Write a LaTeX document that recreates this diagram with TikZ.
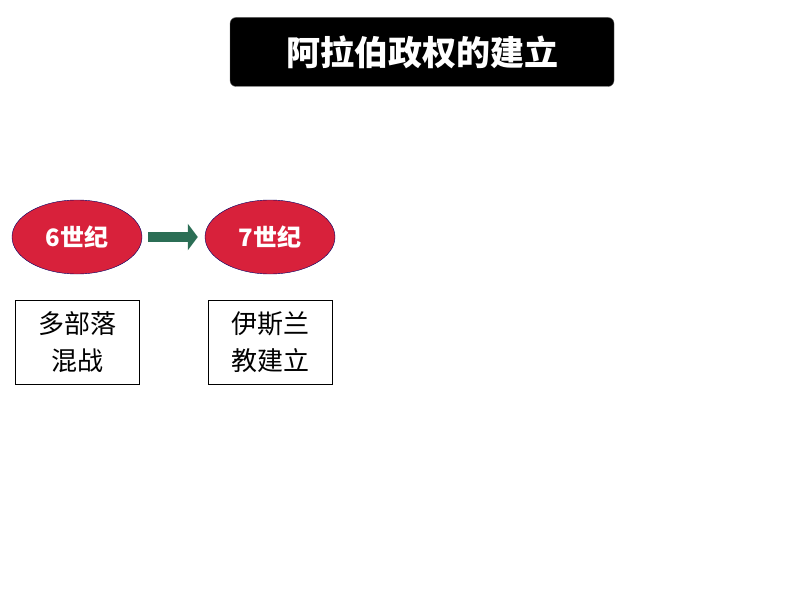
\documentclass[tikz,border=0pt]{standalone}
\usepackage{fontspec}
\setmainfont{Liberation Sans}
\newfontfamily\cjk{Noto Sans CJK SC}
\usetikzlibrary{positioning}
\usetikzlibrary{shapes}
\usetikzlibrary{arrows.meta}
\definecolor{eracolor}{HTML}{D8213B}
\definecolor{arrowgreen}{HTML}{2B6E55}
\begin{document}
\begin{tikzpicture}[x=1pt,y=-1pt,
era/.style={draw=blue!40!black,fill=eracolor,ellipse,minimum width=130pt,
minimum height=74pt,text=white,font=\cjk\bfseries\fontsize{24}{26}\selectfont},
event/.style={draw=black,fill=white,rectangle,minimum width=124pt,
minimum height=84pt,align=center,font=\cjk\fontsize{26}{37}\selectfont,
node distance=26pt}]
\useasboundingbox (0,0) rectangle (794,596);
\node[fill=black,draw=black!60,rounded corners=6pt,minimum width=384pt,
minimum height=69pt,text=white,font=\cjk\bfseries\fontsize{34}{36}\selectfont]
  (title) at (422,52) {阿拉伯政权的建立};
\node[era] (e6) at (77,237) {6世纪};
\node[era] (e7) at (270,237) {7世纪};
\node[event] (war) [below=of e6] {多部落\\混战};
\node[event] (islam) [below=of e7] {伊斯兰\\教建立};

\draw[arrowgreen,line width=10pt,-{Triangle[length=10pt,width=26pt]}]
  ([xshift=6pt]e6.east) -- ([xshift=-7pt]e7.west);
\end{tikzpicture}
\end{document}
